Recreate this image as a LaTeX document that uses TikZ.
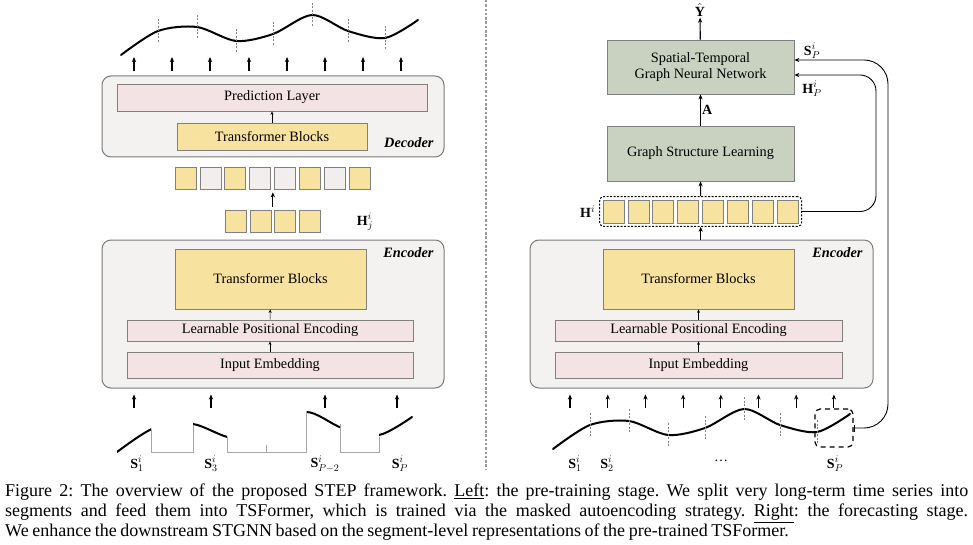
\documentclass[tikz,border=0pt]{standalone}
\usepackage{fontspec}
\setmainfont{Liberation Serif}
\newfontfamily\capfont{Liberation Serif}[WordSpace={0.8,0.8,0.8}]
\usetikzlibrary{arrows.meta, positioning, fit, calc}

\definecolor{frameFill}{HTML}{F3F2F0}
\definecolor{frameLine}{HTML}{7A7A7A}
\definecolor{boxLine}{HTML}{808080}
\definecolor{blockFill}{HTML}{F7E2A0}
\definecolor{layerFill}{HTML}{F3E3E4}
\definecolor{gnnFill}{HTML}{C9D2C1}
\definecolor{maskFill}{HTML}{F2EEEE}

% one series, reused on both sides
\def\seriescurve{plot[smooth] coordinates {(121,55) (158,31) (197,27) (236,41) (273,34) (312,15) (348,31) (385,38) (418,20)}}
\newcommand{\segmarks}{\foreach \x/\y in {158/31,197/27,236/41,273/34,312/15,348/31,385/38}
    \draw[cut] (\x,{\y-12}) -- (\x,{\y+12});}

\begin{document}
\frenchspacing
\begin{tikzpicture}[x=1pt, y=-1pt, >={Stealth[length=5pt,width=4.2pt]},
    txt/.style={font=\fontsize{14.3}{16}\selectfont},
    frame/.style={draw=frameLine, fill=frameFill, line width=1pt, rounded corners=9pt, inner sep=0pt},
    box/.style={draw=boxLine, line width=0.8pt, inner sep=0pt, align=center, txt},
    block/.style={box, fill=blockFill},
    layer/.style={box, fill=layerFill},
    gnn/.style={box, fill=gnnFill},
    tok/.style={draw=boxLine, line width=0.7pt, minimum width=21pt, minimum height=22pt, inner sep=0pt},
    tag/.style={font=\fontsize{14.3}{16}\selectfont\bfseries\itshape, anchor=east},
    lbl/.style={font=\fontsize{14}{16}\selectfont, inner sep=1pt},
    up/.style={->, line width=1.1pt},
    thin/.style={-{Stealth[length=3.5pt,width=3pt]}, line width=0.6pt},
    feed/.style={->, line width=0.9pt},
    curve/.style={line width=2pt, line cap=round},
    cut/.style={draw=gray, line width=0.9pt, dash pattern=on 2pt off 1.5pt},
    mask/.style={draw=gray!70, line width=0.8pt}]

\useasboundingbox (0,0) rectangle (973,545);

% left: pre-training
\node[frame, minimum width=342pt, minimum height=81pt] (decL) at (273,116.5) {};
\node[tag] (decTag) at (437,143) {Decoder};
\node[layer, minimum width=310pt, minimum height=27pt] (pred) at (272,97.5) {Prediction Layer};
\node[block, minimum width=190pt, minimum height=27pt] (tbD) at (272,136.5) {Transformer Blocks};
\draw[thin] (tbD) -- (pred);

\foreach \x [count=\i] in {134,172,210,249,287,325,363,401} {
    \coordinate (o\i) at (\x,57);
    \draw[up, shorten <=4pt] (o\i |- decL.north) -- (o\i);
}
\draw[curve] \seriescurve;
\segmarks

\foreach \c [count=\i] in {blockFill,maskFill,blockFill,maskFill,maskFill,blockFill,maskFill,blockFill}
    \node[tok, fill=\c] (m\i) at ({185.5+24.9*(\i-1)},178) {};
\foreach \i in {1,...,4}
    \node[tok, fill=blockFill] (v\i) at ({235.5+24.9*(\i-1)},221) {};
\node[lbl] (hj) at (365,222) {$\mathbf{H}^i_j$};
\coordinate (vmid) at ($(v2.north east)!0.5!(v3.north west)$);
\draw[up, shorten <=3pt, shorten >=3pt] (vmid) -- (vmid |- m4.south);

\node[frame, minimum width=342pt, minimum height=148pt] (encL) at (273,314) {};
\node[tag] (encTagL) at (437,253) {Encoder};
\node[block, minimum width=191pt, minimum height=60pt] (tbL) at (270.5,279) {Transformer Blocks};
\node[layer, minimum width=286pt, minimum height=21pt] (posL) at (270,330.5) {Learnable Positional Encoding};
\node[layer, minimum width=286pt, minimum height=26pt] (embL) at (270,365) {Input Embedding};
\draw[thin] (embL) -- (posL);
\draw[thin] (posL) -- (tbL);

\foreach \x [count=\i] in {134,211,325,397} {
    \coordinate (iL\i) at (\x,408);
    \draw[up, shorten >=6pt] (iL\i) -- (iL\i |- encL.south);
}
% kept segments, masked ones flattened
\foreach \dx/\a/\b in {-4/121/155,-4/197/231,-6/312/346,-6/385/421} {
    \begin{scope}[shift={(\dx,397)}]
        \clip (\a,-20) rectangle (\b,80);
        \draw[curve] \seriescurve;
    \end{scope}
}
\draw[mask] (151,429) -- (151,452) -- (193,452) -- (193,425)
    (227,437) -- (227,452) -- (306,452) -- (306,411)
    (266,445) -- (266,452)
    (340,424) -- (340,452) -- (379,452) -- (379,437);
\node[lbl] (s1L) at (137,464) {$\mathbf{S}^i_1$};
\node[lbl] (s3L) at (211,464) {$\mathbf{S}^i_3$};
\node[lbl] (s8L) at (325,464) {$\mathbf{S}^i_{P-2}$};
\node[lbl] (sPL) at (400,464) {$\mathbf{S}^i_P$};

\draw[gray!80, line width=1.2pt, dash pattern=on 2.5pt off 1.8pt] (486,0) -- (486,469);

% right: forecasting
\node[gnn, minimum width=187pt, minimum height=54pt] (stgnn) at (700.5,67) {Spatial-Temporal\\Graph Neural Network};
\node[gnn, minimum width=187pt, minimum height=55pt] (gsl) at (700.5,153.5) {Graph Structure Learning};
\node[lbl] (yhat) at (700,10) {$\hat{\mathbf{Y}}$};
\draw[up] (stgnn) -- (yhat);
\draw[up] (gsl) -- node[right, lbl] (aLab) {$\mathbf{A}$} (stgnn);

\foreach \i in {1,...,8}
    \node[tok, fill=blockFill, minimum height=23pt] (h\i) at ({613.5+24.9*(\i-1)},211.5) {};
\node[draw, line width=1pt, dash pattern=on 2pt off 1.5pt, rounded corners=4pt, inner sep=3pt, fit=(h1) (h8)] (hrow) {};
\node[lbl, left=3pt of hrow] (hLab) {$\mathbf{H}^i$};
\draw[up] (hrow) -- (gsl);

\node[frame, minimum width=343pt, minimum height=148pt] (encR) at (701.5,314) {};
\node[tag] (encTagR) at (866,253) {Encoder};
\node[block, minimum width=191pt, minimum height=60pt] (tbR) at (698.5,279) {Transformer Blocks};
\node[layer, minimum width=287pt, minimum height=21pt] (posR) at (698.5,330.5) {Learnable Positional Encoding};
\node[layer, minimum width=287pt, minimum height=26pt] (embR) at (698.5,365) {Input Embedding};
\draw[thin] (embR) -- (posR);
\draw[thin] (posR) -- (tbR);
\draw[up] (encR.north -| hrow.south) -- (hrow.south);

\foreach \i in {1,...,8} {
    \coordinate (iR\i) at ({570+37.7*(\i-1)},408);
    \draw[up, shorten >=6pt] (iR\i) -- (iR\i |- encR.south);
}
\begin{scope}[shift={(432,394)}]
    \draw[curve] \seriescurve;
    \segmarks
\end{scope}
\node[draw, line width=1.2pt, dash pattern=on 5pt off 4pt, rounded corners=5pt, minimum width=38pt, minimum height=38pt] (segP) at (834,428) {};
\node[lbl] (s1R) at (575,464) {$\mathbf{S}^i_1$};
\node[lbl] (s2R) at (607,464) {$\mathbf{S}^i_2$};
\node[lbl] (dots) at (721,461) {\dots};
\node[lbl] (sPR) at (835,464) {$\mathbf{S}^i_P$};

\coordinate (sIn) at ([yshift=7pt]stgnn.east);
\coordinate (hIn) at ([yshift=-8pt]stgnn.east);
\coordinate (railS) at (888,0);
\coordinate (railH) at (876,0);
\draw[feed, {Bar[width=7pt]}->, rounded corners=24pt] (segP.east) -- (railS |- segP.east) -- (railS |- sIn) -- (sIn);
\draw[feed, rounded corners=16pt] (hrow.east) -- (railH |- hrow.east) -- (railH |- hIn) -- (hIn);
\node[lbl] (sPLab) at (812,51) {$\mathbf{S}^i_P$};
\node[lbl] (hPLab) at (812,89) {$\mathbf{H}^i_P$};

\node[anchor=north west, text width=963pt, align=justify, inner sep=0pt, font=\capfont\fontsize{18}{20}\selectfont] (cap) at (5,484)
    {Figure 2: The overview of the proposed STEP framework. \underline{Left}: the pre-training stage. We split very long-term time series into\linebreak
    segments and feed them into TSFormer, which is trained via the masked autoencoding strategy. \underline{Right}: the forecasting stage.\linebreak
    We enhance the downstream STGNN based on the segment-level representations of the pre-trained TSFormer.};
\end{tikzpicture}
\end{document}
